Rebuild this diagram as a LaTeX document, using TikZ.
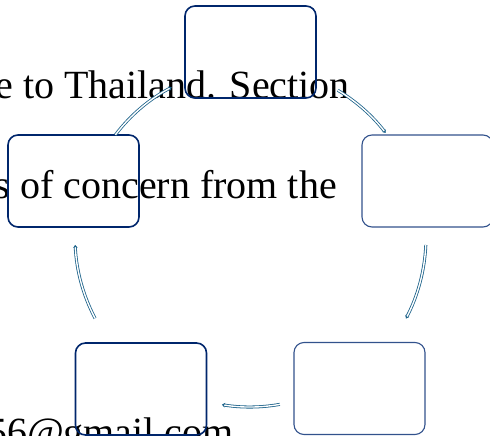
\documentclass[tikz,border=0pt]{standalone}
\usepackage{fontspec}
\setmainfont{Liberation Serif}
\usetikzlibrary{arrows.meta}
\definecolor{navy}{RGB}{0,38,108}
\definecolor{lnavy}{RGB}{50,82,140}
\definecolor{teal2}{RGB}{28,98,138}
\begin{document}
\begin{tikzpicture}[x=1pt,y=-1pt,
  bg/.style={font=\fontsize{40}{40}\selectfont, anchor=base east, inner sep=0pt},
  cbox/.style={draw=navy, line width=1.6pt, rounded corners=10pt, minimum width=131pt, minimum height=92pt, inner sep=0pt},
  lbox/.style={draw=lnavy, line width=1.1pt, rounded corners=10pt, minimum width=131pt, minimum height=92pt, inner sep=0pt},
  conn/.style={draw=teal2, line width=0.8pt, double=white, double distance=1.4pt, -{Stealth[length=3pt,width=4.5pt]}}]
\useasboundingbox (0,0) rectangle (490,436);
\clip (0,0) rectangle (490,436);
% background text
\node[bg] (t1) at (350,99) {e to Thailand. Section};
\node[bg] (t2) at (337,198) {s of concern from the};
\node[bg] (t3) at (234,445) {56@gmail.com};
% centre of cycle
\coordinate (c) at (250,237);
% boxes
\node[cbox] (top) at (250.5,52) {};
\node[cbox] (left) at (73.5,181) {};
\node[lbox] (right) at (427.5,181) {};
\node[cbox] (bl) at (141,389) {};
\node[lbox] (br) at (359.5,388.5) {};
% connectors (arcs of the cycle around c; y axis points down)
\draw[conn] ([shift={(-59.1:171)}]c) arc[start angle=-59.1, end angle=-37.5, radius=171];
\draw[conn] ([shift={(2.6:176)}]c) arc[start angle=2.6, end angle=27.6, radius=176];
\draw[conn] ([shift={(79.9:170)}]c) arc[start angle=79.9, end angle=99.5, radius=170];
\draw[conn] ([shift={(152.3:175)}]c) arc[start angle=152.3, end angle=177.4, radius=175];
\draw[conn] ([shift={(-142.8:169)}]c) arc[start angle=-142.8, end angle=-117.6, radius=169];
\end{tikzpicture}
\end{document}
